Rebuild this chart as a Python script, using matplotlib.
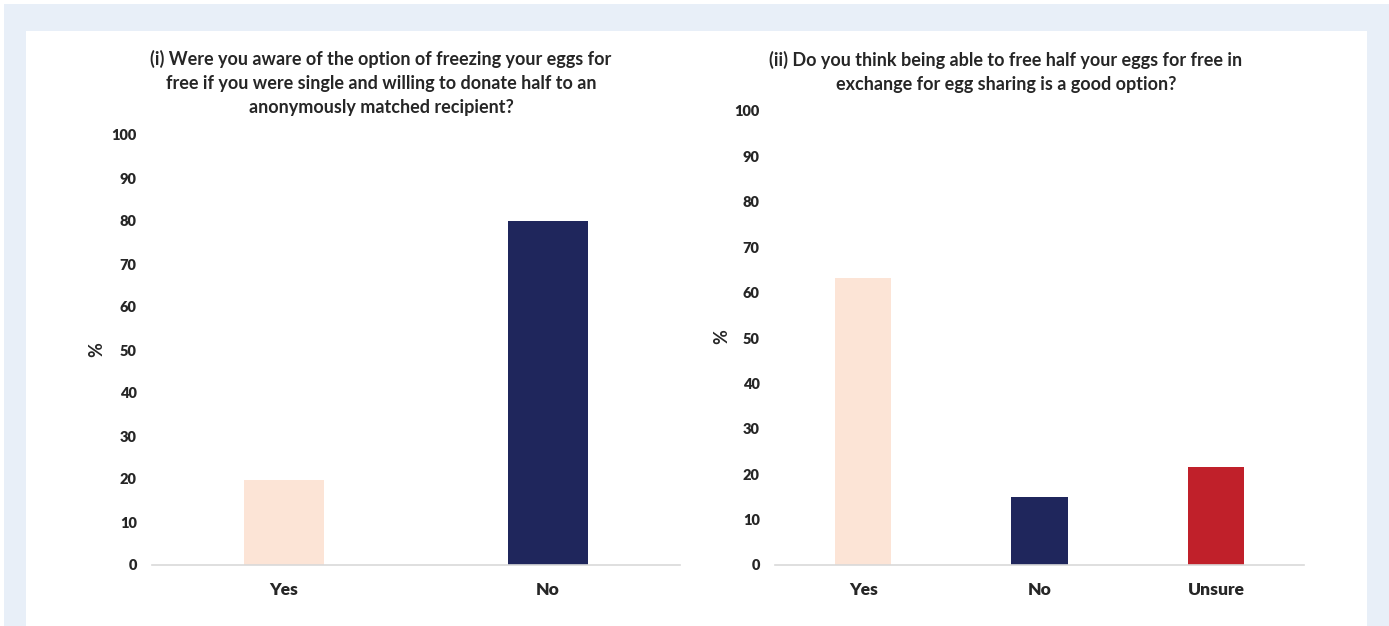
import matplotlib
matplotlib.use("Agg")
import matplotlib.pyplot as plt
from matplotlib.patches import Rectangle

# data
cats_i = ["Yes", "No"]
vals_i = [19.8, 80.0]
cats_ii = ["Yes", "No", "Unsure"]
vals_ii = [63.2, 15.0, 21.6]

title_i = ("(i) Were you aware of the option of freezing your eggs for\n"
           "free if you were single and willing to donate half to an\n"
           "anonymously matched recipient?")
title_ii = ("(ii) Do you think being able to free half your eggs for free in\n"
            "exchange for egg sharing is a good option?")

PEACH = "#fce4d6"
NAVY = "#1f265c"
RED = "#c0202a"
TXT = "#262626"

plt.rcParams["font.family"] = ["Lato", "DejaVu Sans"]
plt.rcParams["font.weight"] = "bold"

W, H = 1389, 626
fig = plt.figure(figsize=(W / 100, H / 100), dpi=100, facecolor="white")

# page background: light blue frame, white panel
fig.patches.append(Rectangle((4 / W, 0), 1 - 4 / W, 1 - 4 / H, transform=fig.transFigure,
                             facecolor="#e8eff8", edgecolor="none", zorder=-2))
fig.patches.append(Rectangle((26 / W, 0), (1367 - 26) / W, 1 - 31 / H, transform=fig.transFigure,
                             facecolor="white", edgecolor="none", zorder=-1))


def px_axes(x0, x1, ytop, ybot):
    ax = fig.add_axes([x0 / W, 1 - ybot / H, (x1 - x0) / W, (ybot - ytop) / H])
    ax.set_zorder(2)
    return ax


def style(ax, cats, vals, colors, width):
    ax.bar(range(len(cats)), vals, color=colors, width=width)
    ax.set_xlim(-0.5, len(cats) - 0.5)
    ax.set_ylim(0, 100)
    ax.set_yticks(range(0, 101, 10))
    ax.set_xticks(range(len(cats)))
    ax.set_xticklabels(cats, fontsize=12.5, fontweight="heavy", color=TXT)
    for lab in ax.get_yticklabels():
        lab.set_fontsize(10.5)
        lab.set_fontweight("heavy")
        lab.set_color(TXT)
    ax.tick_params(axis="y", length=0, pad=11)
    ax.tick_params(axis="x", length=0, pad=12)
    for s in ["top", "right", "left"]:
        ax.spines[s].set_visible(False)
    ax.spines["bottom"].set_color("#d9d9d9")
    ax.spines["bottom"].set_linewidth(1.2)
    ax.set_facecolor("none")


ax1 = px_axes(152, 680, 135, 565)
style(ax1, cats_i, vals_i, [PEACH, NAVY], 0.3)
ax2 = px_axes(775, 1304, 111, 565)
style(ax2, cats_ii, vals_ii, [PEACH, NAVY, RED], 0.32)

fig.text(381 / W, 1 - 83 / H, title_i, ha="center", va="center", fontsize=13,
         fontweight="bold", color=TXT, linespacing=1.5)
fig.text(1006 / W, 1 - 71.5 / H, title_ii, ha="center", va="center", fontsize=13,
         fontweight="bold", color=TXT, linespacing=1.5)
fig.text(97 / W, 1 - 350 / H, "%", rotation=90, ha="center", va="center",
         fontsize=13, fontweight="bold", color=TXT)
fig.text(722 / W, 1 - 337 / H, "%", rotation=90, ha="center", va="center",
         fontsize=13, fontweight="bold", color=TXT)

fig.savefig("out.png", dpi=100, facecolor=fig.get_facecolor())
